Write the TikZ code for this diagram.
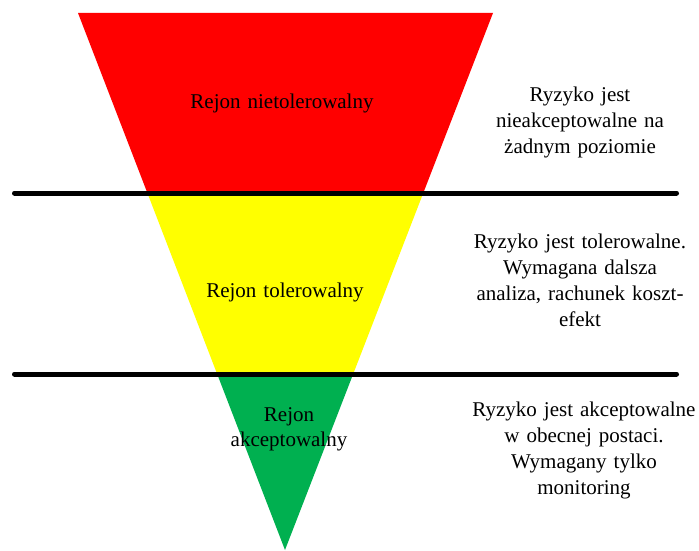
\documentclass[tikz,border=0pt]{standalone}
\usepackage{fontspec}
\setmainfont{Liberation Serif}
\definecolor{zred}{HTML}{FF0000}
\definecolor{zyellow}{HTML}{FFFF00}
\definecolor{zgreen}{HTML}{00B050}
\tikzset{
  divider/.style={line width=5pt, line cap=round, black},
  zonelabel/.style={font=\fontsize{21}{25}\selectfont, align=center, inner sep=0pt, anchor=base, text width=200pt},
  desc/.style={font=\fontsize{21}{26}\selectfont, align=center, inner sep=0pt, anchor=base, text width=230pt}
}
\begin{document}
\begin{tikzpicture}[x=1pt,y=-1pt]
\useasboundingbox (0,0) rectangle (699,551);
\coordinate (tl) at (78,13);
\coordinate (tr) at (493,13);
\coordinate (ap) at (285,550);
\begin{scope}
  \clip (tl) -- (tr) -- (ap) -- cycle;
  \fill[zred] (0,0) rectangle (699,193);
  \fill[zyellow] (0,193) rectangle (699,374);
  \fill[zgreen] (0,374) rectangle (699,560);
\end{scope}
\coordinate (l1a) at (14.5,193);
\coordinate (l1b) at (676.5,193);
\coordinate (l2a) at (14.5,374);
\coordinate (l2b) at (676.5,374);
\draw[divider] (l1a) -- (l1b);
\draw[divider] (l2a) -- (l2b);
\node[zonelabel] (z1) at (282,109) {Rejon nietolerowalny};
\node[zonelabel] (z2) at (285,297) {Rejon tolerowalny};
\node[zonelabel] (z3) at (289,421) {Rejon\\akceptowalny};
\node[desc] (d1) at (580,101) {Ryzyko jest\\nieakceptowalne na\\żadnym poziomie};
\node[desc] (d2) at (580,248) {Ryzyko jest tolerowalne.\\Wymagana dalsza\\analiza, rachunek koszt-\\efekt};
\node[desc] (d3) at (584,416) {Ryzyko jest akceptowalne\\w obecnej postaci.\\Wymagany tylko\\monitoring};
\end{tikzpicture}
\end{document}
